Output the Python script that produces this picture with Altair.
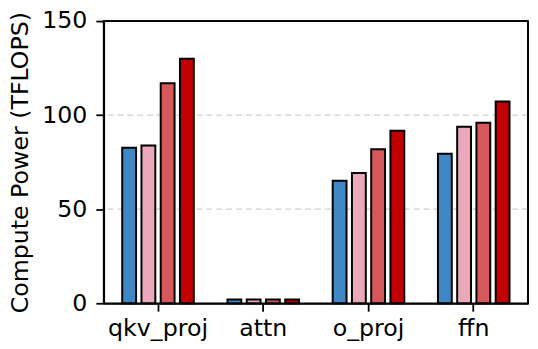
import altair as alt
import pandas as pd

categories = ["qkv_proj", "attn", "o_proj", "ffn"]
series = ["s1", "s2", "s3", "s4"]
colors = ["#3f88c5", "#eaa8ba", "#d6575c", "#c20000"]
values_s1 = [82.7, 2.0, 65.1, 79.5]
values_s2 = [83.8, 2.0, 69.3, 93.8]
values_s3 = [116.9, 2.0, 81.9, 95.9]
values_s4 = [130.0, 2.0, 91.7, 107.2]

rows = []
for s, vals in zip(series, [values_s1, values_s2, values_s3, values_s4]):
    for c, v in zip(categories, vals):
        rows.append({"category": c, "series": s, "value": v})
df = pd.DataFrame(rows)

FONT = "DejaVu Sans"
FS = 24
W, H = 430, 286
LW = 1.8

grid = alt.Chart(pd.DataFrame({"g": [50, 100]})).mark_rule(
    color="#d0d0d0", strokeDash=[6, 4], strokeWidth=1.2
).encode(y=alt.Y("g:Q", scale=alt.Scale(domain=[0, 150], nice=False)))

bars = alt.Chart(df).mark_bar(stroke="black", strokeWidth=2).encode(
    x=alt.X("category:N", sort=categories,
            scale=alt.Scale(paddingInner=0.316, paddingOuter=0.174),
            axis=alt.Axis(title=None, labelAngle=0, labelFontSize=FS, labelFont=FONT,
                          labelColor="black", tickColor="black", tickSize=8, tickWidth=LW,
                          domainColor="black", domainWidth=LW, labelPadding=6, grid=False)),
    xOffset=alt.XOffset("series:N", sort=series,
                        scale=alt.Scale(paddingInner=0.28, paddingOuter=0.01)),
    y=alt.Y("value:Q", scale=alt.Scale(domain=[0, 150], nice=False),
            axis=alt.Axis(title="Compute Power (TFLOPS)", values=[0, 50, 100, 150],
                          titleFontSize=FS, titleFont=FONT, titleFontWeight="normal",
                          titleColor="black", titlePadding=9,
                          labelFontSize=FS, labelFont=FONT, labelColor="black",
                          tickColor="black", tickSize=8, tickWidth=LW, labelPadding=9,
                          domainColor="black", domainWidth=LW, grid=False)),
    color=alt.Color("series:N", sort=series,
                    scale=alt.Scale(domain=series, range=colors), legend=None),
)

top = alt.Chart(pd.DataFrame({"f": [150]})).mark_rule(
    color="black", strokeWidth=LW
).encode(y=alt.Y("f:Q"), x=alt.value(0), x2=alt.value(W))

right = alt.Chart(pd.DataFrame({"f": [0]})).mark_rule(
    color="black", strokeWidth=LW
).encode(x=alt.value(W), y=alt.value(0), y2=alt.value(H))

chart = alt.layer(grid, bars, top, right).properties(
    width=W, height=H,
    background="white",
    autosize=alt.AutoSizeParams(type="none"),
    padding={"left": 97, "top": 11, "right": 2, "bottom": 36},
).configure_view(stroke="black", strokeWidth=LW)

chart.save("out.html", embed_options={"renderer": "svg", "actions": False})
